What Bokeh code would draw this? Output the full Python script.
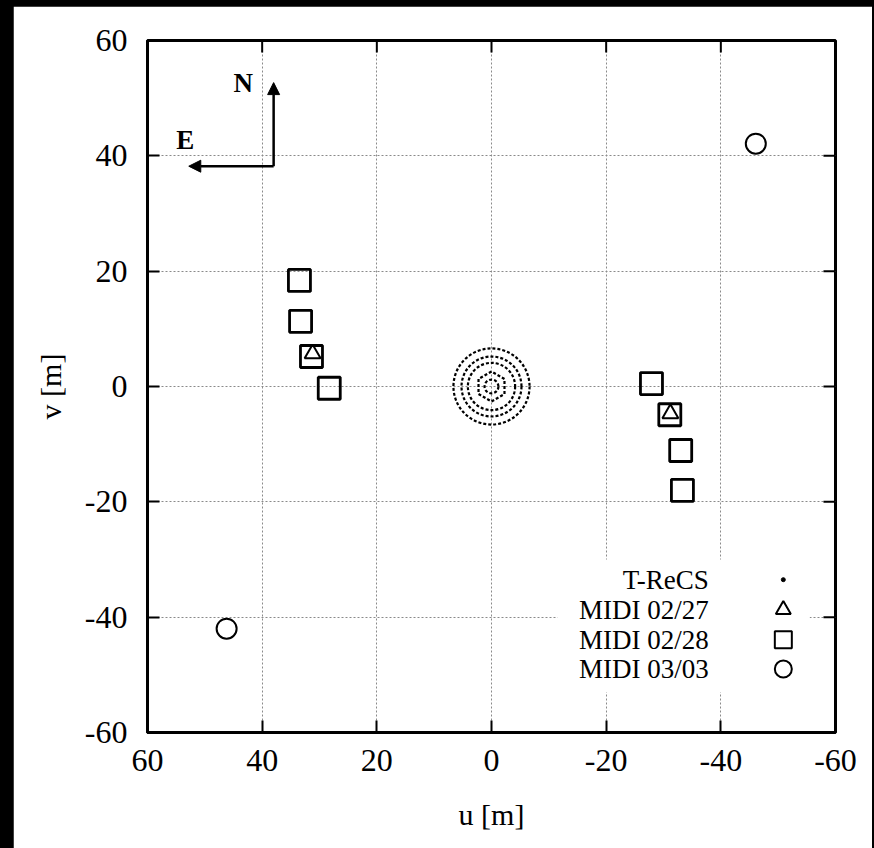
from bokeh.plotting import figure
from bokeh.models import Range1d, FixedTicker, Arrow, NormalHead, Label
from bokeh.embed import file_html
from bokeh.resources import INLINE

# ---------------- data ----------------
tick_values = [-60, -40, -20, 0, 20, 40, 60]
tick_labels = {t: str(t) for t in tick_values}

# T-ReCS uv coverage: dotted rings (radius in m) and inner hexagon
trecs_ring_r = [1.2, 4.1, 5.2, 6.6]
trecs_hex_r = [2.6]

midi_0227_u = [31.2, -31.2]
midi_0227_v = [5.7, -4.7]

midi_0228_u = [33.5, 33.3, 31.4, 28.3, -27.9, -31.1, -33.0, -33.3]
midi_0228_v = [18.4, 11.3, 5.2, -0.3, 0.5, -4.9, -11.1, -18.0]

midi_0303_u = [-46.1, 46.2]
midi_0303_v = [42.1, -42.0]

legend_labels = ["T-ReCS", "MIDI 02/27", "MIDI 02/28", "MIDI 03/03"]

# ---------------- layout constants ----------------
SERIF = "Liberation Serif"
FRAME_W, FRAME_H = 688, 692
X_MIN, X_MAX, Y_MIN, Y_MAX = -60, 60, -60, 60
TICK_PX = 12

p = figure(
    frame_width=FRAME_W, frame_height=FRAME_H,
    x_range=Range1d(X_MAX, X_MIN), y_range=Range1d(Y_MIN, Y_MAX),
    output_backend="svg", toolbar_location=None,
    min_border_left=134, min_border_right=37,
    min_border_top=34, min_border_bottom=116,
    background_fill_color="white", border_fill_color="white",
)
p.margin = (6, 2, 0, 13)

p.outline_line_color = "black"
p.outline_line_width = 3

ticker = FixedTicker(ticks=tick_values)
for ax in (p.xaxis[0], p.yaxis[0]):
    ax.ticker = ticker
    ax.major_label_overrides = tick_labels
    ax.major_tick_in = TICK_PX
    ax.major_tick_out = 0
    ax.minor_tick_line_color = None
    ax.major_tick_line_width = 2
    ax.axis_line_width = 3
    ax.major_label_text_font = SERIF
    ax.major_label_text_font_size = "32px"
    ax.major_label_text_color = "black"
    ax.axis_label_text_font = SERIF
    ax.axis_label_text_font_size = "30px"
    ax.axis_label_text_font_style = "normal"
    ax.axis_label_text_color = "black"

p.xaxis.axis_label = "u [m]"
p.yaxis.axis_label = "v [m]"
p.xaxis.major_label_standoff = 17
p.yaxis.major_label_standoff = 20
p.xaxis.axis_label_standoff = 24
p.yaxis.axis_label_standoff = 15

p.grid.ticker = ticker
p.grid.grid_line_color = "#8a8a8a"
p.grid.grid_line_dash = "2 2"
p.grid.grid_line_width = 1

# mirrored inward ticks on top and right edges (gnuplot style)
tick_du = TICK_PX * (X_MAX - X_MIN) / FRAME_W
tick_dv = TICK_PX * (Y_MAX - Y_MIN) / FRAME_H
p.segment(x0=tick_values, y0=[Y_MAX] * len(tick_values),
          x1=tick_values, y1=[Y_MAX - tick_dv] * len(tick_values),
          line_color="black", line_width=2)
p.segment(x0=[X_MIN] * len(tick_values), y0=tick_values,
          x1=[X_MIN + tick_du] * len(tick_values), y1=tick_values,
          line_color="black", line_width=2)

# ---------------- T-ReCS ----------------
p.circle(x=[0] * len(trecs_ring_r), y=[0] * len(trecs_ring_r), radius=trecs_ring_r,
         radius_dimension="y", fill_color=None, line_color="black",
         line_dash="3 2", line_width=2.2)
p.scatter(x=[0], y=[0], marker="hex", size=[2 * r * FRAME_H / (Y_MAX - Y_MIN) for r in trecs_hex_r],
          angle=0.5236, fill_color=None, line_color="black", line_dash="3 2", line_width=2.2)

# ---------------- MIDI ----------------
p.scatter(midi_0228_u, midi_0228_v, marker="square", size=22, fill_color=None,
          line_color="black", line_width=2.8)
p.scatter(midi_0227_u, midi_0227_v, marker="triangle", size=16, fill_color=None,
          line_color="black", line_width=2)
p.scatter(midi_0303_u, midi_0303_v, marker="circle", size=20, fill_color=None,
          line_color="black", line_width=2)

# ---------------- key (gnuplot style, opaque) ----------------
key_text_u = -37.9
key_sym_u = -50.9
key_rows_v = [-33.5, -38.7, -43.9, -49.0]
p.quad(left=[-11.5], right=[-55.5], top=[-30.0], bottom=[-53.0],
       fill_color="white", line_color=None)
for lab, v in zip(legend_labels, key_rows_v):
    p.add_layout(Label(x=key_text_u, y=v, text=lab, text_align="right",
                       text_baseline="middle", text_font=SERIF,
                       text_font_size="27px", text_color="black"))
p.scatter([key_sym_u], [key_rows_v[0]], marker="circle", size=4,
          fill_color="black", line_color="black")
p.scatter([key_sym_u], [key_rows_v[1]], marker="triangle", size=15,
          fill_color=None, line_color="black", line_width=2)
p.scatter([key_sym_u], [key_rows_v[2]], marker="square", size=17,
          fill_color=None, line_color="black", line_width=2)
p.scatter([key_sym_u], [key_rows_v[3]], marker="circle", size=17,
          fill_color=None, line_color="black", line_width=2)

# ---------------- compass ----------------
corner_u, corner_v = 38.0, 38.2
north_v = 52.7
east_u = 52.8
for xe, ye in ((corner_u, north_v), (east_u, corner_v)):
    p.add_layout(Arrow(x_start=corner_u, y_start=corner_v, x_end=xe, y_end=ye,
                       line_width=2.5, line_color="black",
                       end=NormalHead(size=12, fill_color="black",
                                      line_color="black", line_width=1)))
p.add_layout(Label(x=43.3, y=52.7, text="N", text_align="center",
                   text_baseline="middle", text_font=SERIF, text_color="black",
                   text_font_size="27px", text_font_style="bold"))
p.add_layout(Label(x=53.4, y=42.7, text="E", text_align="center",
                   text_baseline="middle", text_font=SERIF, text_color="black",
                   text_font_size="27px", text_font_style="bold"))

TEMPLATE = """
{% block postamble %}
<style>html, body { background: #000; margin: 0; }</style>
{% endblock %}
"""

open("out.html", "w").write(file_html(p, INLINE, template=TEMPLATE))
